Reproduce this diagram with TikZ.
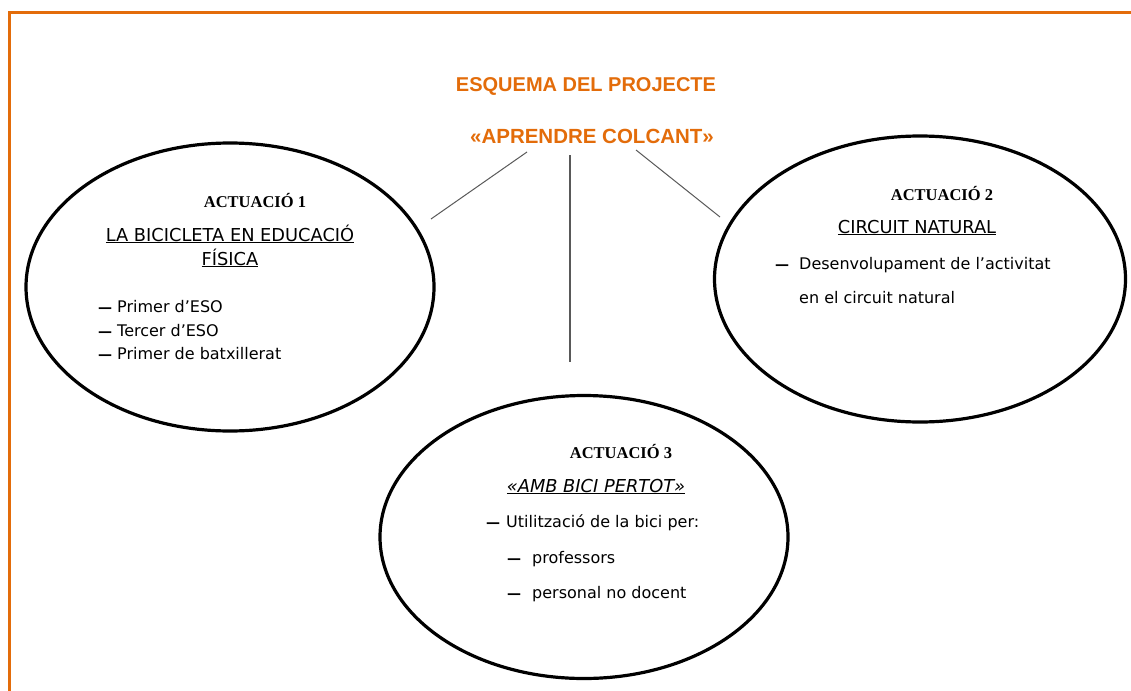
\documentclass[tikz,border=0pt]{standalone}
\usepackage{fontspec}
\usetikzlibrary{shapes.geometric}
\newfontfamily\bodyf{DejaVu Sans}
\newfontfamily\headf{Liberation Serif}
\newfontfamily\titlef{Liberation Sans}
\definecolor{orng}{HTML}{E36C0A}
\definecolor{lgray}{HTML}{595959}
\begin{document}
\begin{tikzpicture}[x=1pt,y=-1pt,
  bubble/.style={ellipse, draw=black, line width=3.2pt, inner sep=0pt},
  titletxt/.style={text=orng, font=\titlef\bfseries\fontsize{20}{24}\selectfont, inner sep=0pt, anchor=base},
  acttxt/.style={font=\headf\bfseries\fontsize{16.5}{20}\selectfont, inner sep=0pt, anchor=base},
  headtxt/.style={font=\bodyf\fontsize{17.8}{21}\selectfont, inner sep=0pt, anchor=base},
  itemtxt/.style={font=\bodyf\fontsize{16}{19}\selectfont, inner sep=0pt, anchor=base west},
  dashtxt/.style={font=\bodyf\bfseries\fontsize{14}{19}\selectfont, inner sep=0pt, anchor=base west},
  link/.style={draw=lgray, line width=1pt}
]
\useasboundingbox (0,0) rectangle (1131,690);
\fill[white] (0,0) rectangle (1131,690);
\begin{scope}
  \clip (0,0) rectangle (1131,690);
  \draw[orng, line width=3pt] (9.5,700) -- (9.5,12.5) -- (1140,12.5);
\end{scope}

% title
\node[titletxt] (t1) at (586,92) {ESQUEMA DEL PROJECTE};
\node[titletxt, font=\titlef\bfseries\fontsize{20.5}{24}\selectfont] (t2) at (592,143) {«APRENDRE COLCANT»};

% bubbles
\node[bubble, minimum width=408pt, minimum height=288pt] (e1) at (230,287) {};
\node[bubble, minimum width=411pt, minimum height=286pt] (e2) at (920,279) {};
\node[bubble, minimum width=408pt, minimum height=283pt] (e3) at (584,537) {};

% connectors
\coordinate (c1s) at (527,152);
\coordinate (c1e) at (431,219);
\coordinate (c2s) at (570,155);
\coordinate (c2e) at (570,362);
\coordinate (c3s) at (636,150);
\coordinate (c3e) at (720,217);
\draw[link] (c1s) -- (c1e);
\draw[link, line width=1.2pt] (c2s) -- (c2e);
\draw[link] (c3s) -- (c3e);

% bubble 1
\node[acttxt] (a1) at (255,207) {ACTUACIÓ 1};
\node[headtxt] (h1a) at (230,241) {\underline{LA BICICLETA EN EDUCACIÓ}};
\node[headtxt] (h1b) at (230,265) {\underline{FÍSICA}};
\node[dashtxt] (d1a) at (98,312) {—};
\node[itemtxt] (i1a) at (117,312) {Primer d’ESO};
\node[dashtxt] (d1b) at (98,336) {—};
\node[itemtxt] (i1b) at (117,336) {Tercer d’ESO};
\node[dashtxt] (d1c) at (98,359) {—};
\node[itemtxt] (i1c) at (117,359) {Primer de batxillerat};

% bubble 2
\node[acttxt] (a2) at (942,200) {ACTUACIÓ 2};
\node[headtxt] (h2) at (917,233) {\underline{CIRCUIT NATURAL}};
\node[dashtxt] (d2a) at (775,269) {—};
\node[itemtxt] (i2a) at (799,269) {Desenvolupament de l’activitat};
\node[itemtxt] (i2b) at (799,303) {en el circuit natural};

% bubble 3
\node[acttxt] (a3) at (621,458) {ACTUACIÓ 3};
\node[headtxt, font=\bodyf\itshape\fontsize{17.8}{21}\selectfont] (h3) at (596,492) {\underline{«AMB BICI PERTOT»}};
\node[dashtxt] (d3a) at (486,527) {—};
\node[itemtxt] (i3a) at (506,527) {Utilització de la bici per:};
\node[dashtxt] (d3b) at (507,563) {—};
\node[itemtxt] (i3b) at (532,563) {professors};
\node[dashtxt] (d3c) at (507,598) {—};
\node[itemtxt] (i3c) at (532,598) {personal no docent};
\end{tikzpicture}
\end{document}
